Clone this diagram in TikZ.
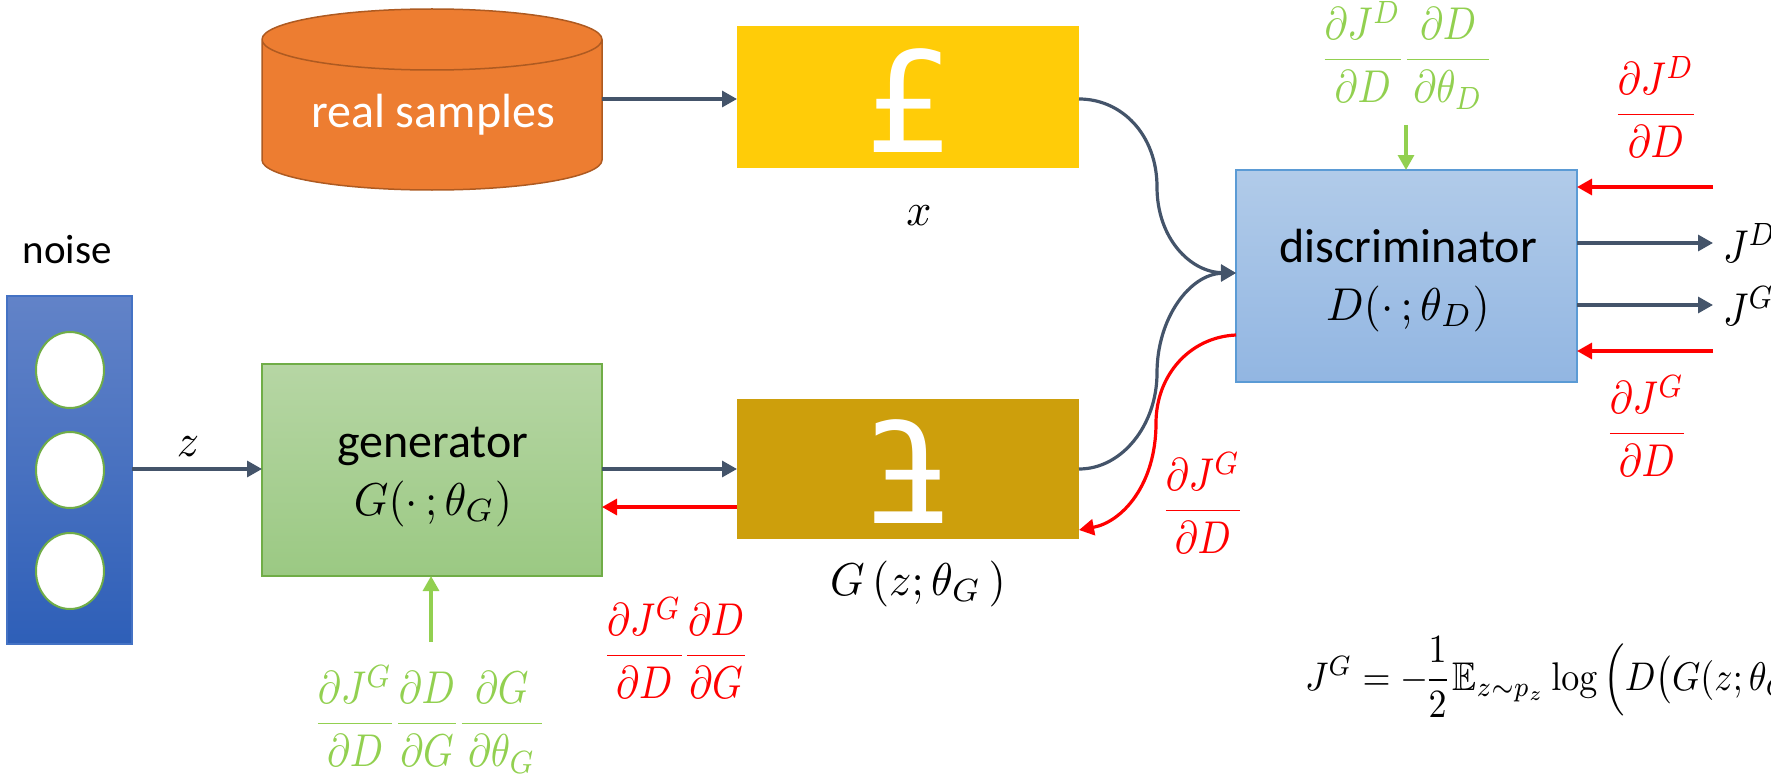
\documentclass[tikz,border=0pt]{standalone}
\usepackage{amsmath,amssymb}
\usepackage[no-math]{fontspec}
\setmainfont{Carlito}
\newfontfamily\poundfont{DejaVu Sans}
\usetikzlibrary{arrows.meta,shapes.geometric}
\definecolor{arrowdark}{HTML}{44546A}
\definecolor{gradgreen}{HTML}{92D050}
\definecolor{gradred}{HTML}{FF0000}
\definecolor{yellowbox}{HTML}{FFCC08}
\definecolor{darkbox}{HTML}{CD9F0C}
\definecolor{noiseedge}{HTML}{4472C4}
\definecolor{noisetop}{HTML}{6283C8}
\definecolor{noisebot}{HTML}{2E5FB8}
\definecolor{genedge}{HTML}{70AD47}
\definecolor{gentop}{HTML}{B6D6A4}
\definecolor{genbot}{HTML}{9BC983}
\definecolor{discedge}{HTML}{5B9BD5}
\definecolor{disctop}{HTML}{B1CBE9}
\definecolor{discbot}{HTML}{92B6E2}
\definecolor{cylfill}{HTML}{ED7D31}
\definecolor{cyledge}{HTML}{AE5A21}
\setlength{\nulldelimiterspace}{0pt}
\tikzset{
  x=1pt,y=-1pt,
  box/.style={rectangle,inner sep=0pt,outer sep=0pt,line width=2pt},
  flow/.style={arrowdark,line width=3.2pt,-{Triangle[length=15pt,width=16pt]}},
  redflow/.style={gradred,line width=3.2pt,-{Triangle[length=15pt,width=16pt]}},
  greenflow/.style={gradgreen,line width=3.2pt,-{Triangle[length=15pt,width=16pt]}},
  mathlabel/.style={xscale=3.9,yscale=4.6,anchor=base,inner sep=0pt,outer sep=0pt},
  widemath/.style={xscale=4.4,yscale=4.6,anchor=base,inner sep=0pt,outer sep=0pt},
  textlabel/.style={anchor=base,inner sep=0pt,outer sep=0pt},
  hole/.style={ellipse,draw=genedge,inner sep=0pt,outer sep=0pt,minimum width=68pt,minimum height=76pt,fill=white,line width=2pt},
}
\begin{document}
\begin{tikzpicture}
\useasboundingbox (0,0) rectangle (1771,781);
\clip (0,0) rectangle (1771,781);
% boxes
\node[box,minimum width=125pt,minimum height=348pt,draw=noiseedge,top color=noisetop,bottom color=noisebot] (noise) at (69.5,470) {};
\foreach \n/\yy in {c1/370,c2/470,c3/571}
  \node[hole] (\n) at (70,\yy) {};
\node[textlabel,font=\fontsize{41}{48}\selectfont] (noiselabel) at (67,263) {noise};
\node[box,minimum width=340pt,minimum height=212pt,draw=genedge,top color=gentop,bottom color=genbot] (gen) at (432,470) {};
\node[textlabel,font=\fontsize{48}{56}\selectfont] (gentext) at (433,457) {generator};
\node[widemath] (genmath) at (433,515) {$G(\cdot\,;\theta_G)$};
\node[box,minimum width=342pt,minimum height=142pt,fill=yellowbox] (real) at (908,97) {};
\node[textlabel,white,font=\poundfont\fontsize{140}{170}\selectfont] (pound) at (910,153) {£};
\node[box,minimum width=342pt,minimum height=140pt,fill=darkbox] (fake) at (908,469) {};
\node[textlabel,white,xscale=-1,font=\poundfont\fontsize{140}{170}\selectfont] (flipped) at (907,523) {£};
\node[box,minimum width=341pt,minimum height=212pt,draw=discedge,top color=disctop,bottom color=discbot] (disc) at (1406.5,276) {};
\node[textlabel,font=\fontsize{48}{56}\selectfont] (disctext) at (1408,262) {discriminator};
\node[widemath] (discmath) at (1408,320) {$D(\cdot\,;\theta_D)$};
% real samples cylinder
\fill[cylfill] (262,39.5) arc[start angle=180,end angle=0,x radius=170,y radius=-30.5] -- (602,160) arc[start angle=0,end angle=-180,x radius=170,y radius=-30] -- cycle;
\draw[cyledge,line width=1.5pt] (262,39.5) arc[start angle=180,end angle=-180,x radius=170,y radius=30.5] (262,39.5) -- (262,160) arc[start angle=180,end angle=0,x radius=170,y radius=30] -- (602,39.5);
\node[textlabel,white,font=\fontsize{48}{56}\selectfont] (sampletext) at (433,128) {real samples};
\coordinate (samples) at (602,99);
% labels
\node[widemath] (zlabel) at (188,456) {$z$};
\node[widemath] (xlabel) at (919,225) {$x$};
\node[widemath] (gzlabel) at (918,595) {$G\,(z;\theta_G\,)$};
\node[mathlabel,anchor=base west] (jd) at (1723,262) {$J^D$};
\node[mathlabel,anchor=base west] (jg) at (1723,325) {$J^G$};
% connectors
\coordinate (arrd) at (1713,243);
\coordinate (arrg) at (1713,305);
\coordinate (inr) at (1713,187);
\coordinate (ing) at (1713,351);
\coordinate (gback) at (737,507);
\coordinate (greentop) at (1406,125);
\coordinate (greenbot) at (431,642);
\coordinate (redend) at (1079,530);
\coordinate (redstart) at (1236,335);
\coordinate (bend) at (1236,273);
\draw[flow] (noise.east|-fake.west) -- (gen.west|-fake.west);
\draw[flow] (gen.east|-fake.west) -- (fake.west);
\draw[flow] (samples) -- (real.west|-samples);
\draw[redflow] (gback) -- (gen.east|-gback);
\draw[flow] (real.east|-samples) .. controls (1122,99) and (1157,135) .. (1157,187) .. controls (1157,238) and (1190,272) .. (bend);
\draw[flow] (fake.east) .. controls (1122,469) and (1157,425) .. (1157,373) .. controls (1157,318) and (1190,274) .. (bend);
\draw[redflow] (redstart) .. controls (1190,337) and (1156,375) .. (1156,423) .. controls (1156,485) and (1122,522) .. (redend);
\draw[flow] (disc.east|-arrd) -- (arrd);
\draw[flow] (disc.east|-arrg) -- (arrg);
\draw[redflow] (inr) -- (disc.east|-inr);
\draw[redflow] (ing) -- (disc.east|-ing);
\draw[greenflow] (greentop) -- (disc.north-|greentop);
\draw[greenflow] (greenbot) -- (gen.south-|greenbot);
% fractions
\node[mathlabel,gradgreen] (f1) at (1407,71) {$\dfrac{\partial J^D}{\partial D}\kern1.5pt\dfrac{\partial D}{\,\partial \theta_D\,}$};
\node[mathlabel,gradred] (f2) at (1656,126) {$\dfrac{\partial J^D}{\partial D}$};
\node[mathlabel,gradred] (f3) at (1647,445) {$\dfrac{\partial J^G}{\partial D}$};
\node[mathlabel,gradred] (f4) at (1203,522) {$\dfrac{\partial J^G}{\partial D}$};
\node[mathlabel,gradred] (f5) at (676,667) {$\dfrac{\partial J^G}{\partial D}\kern1.5pt\dfrac{\partial D}{\kern.5pt\partial G\kern.5pt}$};
\node[mathlabel,gradgreen] (f6) at (430,735) {$\dfrac{\partial J^G}{\partial D}\kern1.5pt\dfrac{\partial D}{\kern.5pt\partial G\kern.5pt}\kern1.5pt\dfrac{\partial G}{\,\partial \theta_G\,}$};
\node[xscale=3.6,yscale=4,anchor=base west,inner sep=0pt,outer sep=0pt] (loss) at (1305,690) {$J^G=-\dfrac{1}{2}\,\mathbb{E}_{z\sim p_z}\log\kern1.5pt\Bigl(D\bigl(G(z;\theta_G$};
\end{tikzpicture}
\end{document}
